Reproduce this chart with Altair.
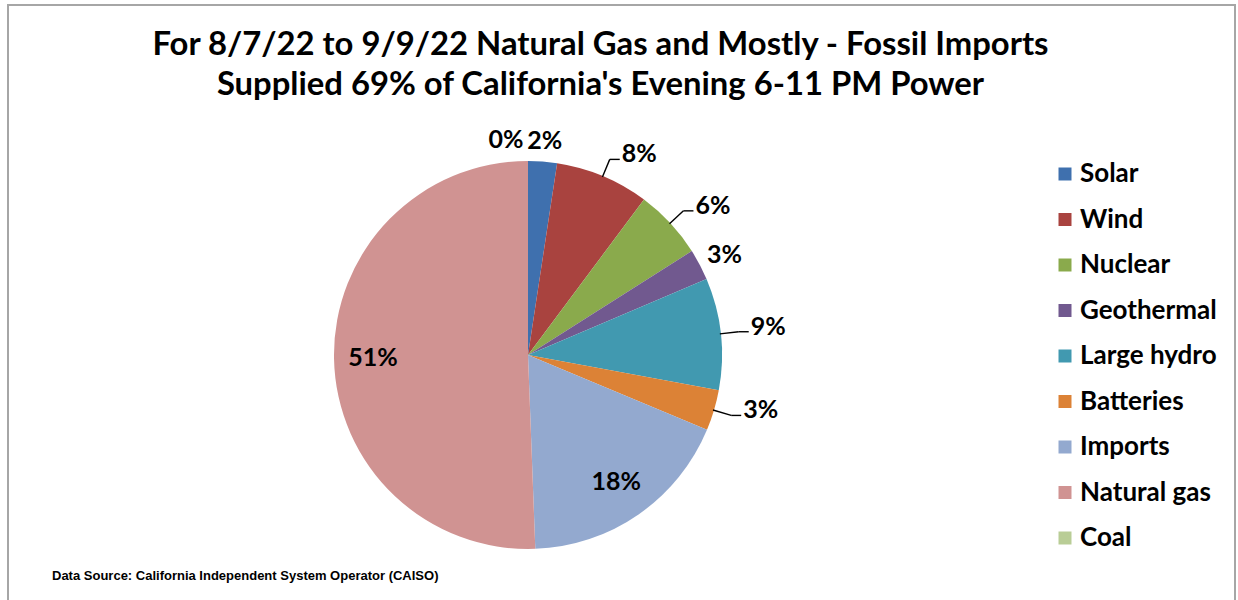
import math
import altair as alt
import pandas as pd

# ---- data ----
sources = ["Solar", "Wind", "Nuclear", "Geothermal", "Large hydro",
           "Batteries", "Imports", "Natural gas", "Coal"]
shares = [2.4, 7.8, 5.8, 2.6, 9.3, 3.4, 18.1, 50.6, 0.0]
colors = ["#3F70AE", "#A9433F", "#8AAA4C", "#71598F", "#4199B0",
          "#DC8236", "#93A9CF", "#D09392", "#B9CD96"]

title_lines = ["For 8/7/22 to 9/9/22 Natural Gas and Mostly - Fossil Imports",
               "Supplied 69% of California's Evening 6-11 PM Power"]
source_note = ["Data Source: California Independent System Operator (CAISO)"]

df = pd.DataFrame({"source": sources, "value": shares,
                   "idx": list(range(len(sources)))})

FONT = "Lato"
CX, CY = 520, 350      # pie centre inside the plot group
R = 194                # pie radius
LBL_FS = 25
HW, HH = 18, 11        # half width / half height of a small outside label
NEAR_GAP = 10          # labels placed right next to the slice
LEAD_GAP = 18          # labels placed with a leader line

base = (
    alt.Chart(df)
    .transform_joinaggregate(total="sum(value)")
    .transform_window(cum="sum(value)", sort=[alt.SortField("idx")],
                      frame=[None, 0])
    .transform_calculate(
        a0="2*PI*(datum.cum - datum.value)/datum.total",
        a1="2*PI*datum.cum/datum.total",
    )
    .transform_calculate(
        am="(datum.a0 + datum.a1)/2",
        lbl="format(datum.value, '.0f') + '%'",
    )
    .transform_calculate(
        # near labels: centred just outside the rim
        tx=f"{CX} + {R + NEAR_GAP}*sin(datum.am) + {HW}*sin(datum.am)",
        ty=f"{CY} - {R + NEAR_GAP}*cos(datum.am) - {HH}*cos(datum.am)",
        # leader lines: rim -> elbow -> short horizontal
        lx1=f"{CX} + {R - 1}*sin(datum.am)",
        ly1=f"{CY} - {R - 1}*cos(datum.am)",
        ex=f"{CX} + {R + LEAD_GAP}*sin(datum.am)",
        ey=f"{CY} - {R + LEAD_GAP}*cos(datum.am)",
    )
    .transform_calculate(
        hx="datum.ex + 10",
        lbx="datum.ex + 12",
        lby="datum.ey - 5",
    )
)

arcs = base.mark_arc().encode(
    theta=alt.Theta("a0:Q", scale=None),
    theta2="a1:Q",
    x=alt.value(CX),
    y=alt.value(CY),
    radius=alt.value(R),
    color=alt.Color(
        "source:N",
        scale=alt.Scale(domain=sources, range=colors),
        legend=alt.Legend(
            title=None, orient="none", legendX=1044, legendY=156,
            symbolType="square", symbolSize=169, symbolStrokeWidth=0,
            labelFont=FONT, labelFontSize=26, labelFontWeight="bold",
            labelColor="black", labelOffset=2, labelLimit=300,
            rowPadding=19.5, padding=0,
        ),
    ),
    order=alt.Order("idx:Q"),
)

text_style = dict(font=FONT, fontSize=LBL_FS, fontWeight="bold", color="black")

near = base.transform_filter(
    "datum.value < 3 && datum.source != 'Coal'"
).mark_text(**text_style).encode(
    x=alt.X("tx:Q", scale=None),
    y=alt.Y("ty:Q", scale=None),
    text="lbl:N",
)

coal_lbl = base.transform_filter("datum.source == 'Coal'").mark_text(
    dx=-22, **text_style
).encode(
    x=alt.X("tx:Q", scale=None),
    y=alt.Y("ty:Q", scale=None),
    text="lbl:N",
)

lead_sel = "datum.value >= 3 && datum.value < 15"

lead_text = base.transform_filter(lead_sel).mark_text(
    align="left", **text_style
).encode(
    x=alt.X("lbx:Q", scale=None),
    y=alt.Y("lby:Q", scale=None),
    text="lbl:N",
)

lead1 = base.transform_filter(lead_sel).mark_rule(
    color="black", strokeWidth=1.4
).encode(
    x=alt.X("lx1:Q", scale=None),
    y=alt.Y("ly1:Q", scale=None),
    x2="ex:Q",
    y2="ey:Q",
)

lead2 = base.transform_filter(lead_sel).mark_rule(
    color="black", strokeWidth=1.4
).encode(
    x=alt.X("ex:Q", scale=None),
    y=alt.Y("ey:Q", scale=None),
    x2="hx:Q",
    y2="ey:Q",
)

inside = base.transform_filter("datum.value >= 15").mark_text(
    **text_style
).encode(
    theta=alt.Theta("am:Q", scale=None),
    radius=alt.value(155),
    x=alt.value(CX), y=alt.value(CY),
    text="lbl:N",
)

note = alt.Chart(pd.DataFrame({"t": source_note})).mark_text(
    font="Liberation Sans", fontSize=13, fontWeight="bold",
    align="left", color="black",
).encode(x=alt.value(44), y=alt.value(571), text="t:N")

chart = (
    alt.layer(arcs, lead1, lead2, near, coal_lbl, lead_text, inside, note)
    .properties(
        width=1227, height=600,
        autosize=alt.AutoSizeParams(type="none"),
        padding={"left": 8, "top": 5, "right": 3, "bottom": 0},
        title=alt.Title(
            title_lines, font=FONT, fontSize=32.8, fontWeight="bold",
            color="black", anchor="middle", baseline="bottom",
            offset=-130, dx=-21, lineHeight=40,
        ),
        background="white",
    )
    .configure_view(stroke="#A6A6A6", strokeWidth=2)
)

chart.save("out.html", embed_options={"renderer": "svg", "actions": False})
